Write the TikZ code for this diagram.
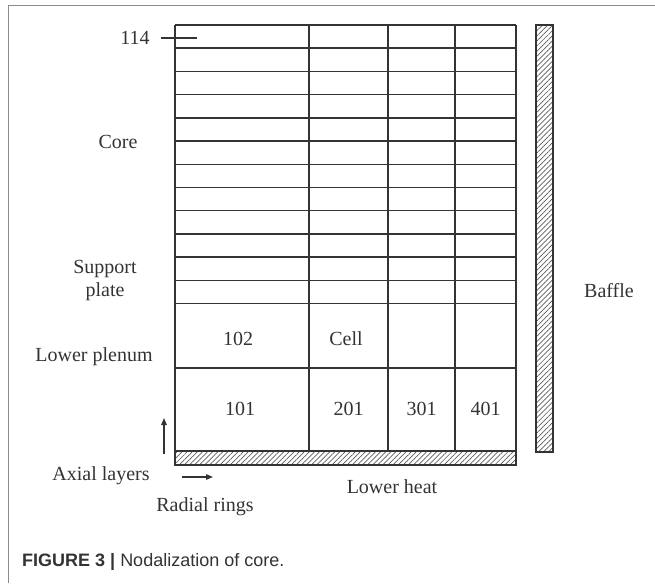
\documentclass[tikz,border=0pt]{standalone}
\usepackage{fontspec}
\setmainfont{Liberation Serif}
\newfontfamily\capfont{Liberation Sans}
\usetikzlibrary{patterns.meta,arrows.meta}
\definecolor{ink}{HTML}{333333}
\definecolor{framec}{HTML}{8A8A8A}
\begin{document}
\begin{tikzpicture}[x=1pt,y=-1pt,
  gridline/.style={draw=ink,line width=1.4pt},
  lbl/.style={text=ink,font=\fontsize{20}{22}\selectfont,inner sep=0pt,align=center},
  hatchbox/.style={draw=ink,line width=1.2pt,pattern={Lines[angle=45,distance=3.6pt,line width=0.7pt]},pattern color=ink!80},
  arr/.style={draw=ink,line width=1.3pt,-{Triangle[length=7pt,width=5.5pt]}}]
\useasboundingbox (0,0) rectangle (655,583);
% outer frame (cropped)
\draw[framec,line width=1pt] (8,583) -- (8,6) -- (655,6);
% grid rows
\foreach \y in {25,48.2,71.4,94.6,117.8,141,164.2,187.4,210.6,233.8,257,280.2,303.4,368,451}
  \draw[gridline] (175,\y) -- (516,\y);
% grid columns
\foreach \x in {175,309,388,455,516}
  \draw[gridline] (\x,25) -- (\x,451);
% hatched lower heat structure and baffle
\draw[hatchbox] (175,451) rectangle (516,465);
\draw[hatchbox] (536,25) rectangle (553,452);
% labels
\node[lbl] (n114) at (135,38) {114};
\coordinate (m114a) at (161,38);
\coordinate (m114b) at (197,38);
\draw[draw=ink,line width=1.2pt] (m114a) -- (m114b);
\node[lbl] (core) at (118,142) {Core};
\node[lbl] (supp) at (105,281) {Support\\[1pt]plate};
\node[lbl] (lp) at (94,357) {Lower plenum};
\node[lbl] (c102) at (238,339) {102};
\node[lbl] (cell) at (346,339) {Cell};
\node[lbl] (baffle) at (609,291) {Baffle};
\node[lbl] (c101) at (240,409) {101};
\node[lbl] (c201) at (348.5,409) {201};
\node[lbl] (c301) at (421.5,409) {301};
\node[lbl] (c401) at (485.5,409) {401};
\node[lbl] (axial) at (101,476) {Axial layers};
\node[lbl] (radial) at (205,507) {Radial rings};
\node[lbl] (lheat) at (392,487) {Lower heat};
\coordinate (ua) at (164,454);
\coordinate (ub) at (164,418);
\draw[arr] (ua) -- (ub);
\coordinate (ra) at (182,477);
\coordinate (rb) at (213,477);
\draw[arr] (ra) -- (rb);
% caption
\node[anchor=west,inner sep=0pt,text=ink,font=\capfont\fontsize{18}{21}\selectfont] (cap) at (22,562) {\textbf{FIGURE 3 |} Nodalization of core.};
\end{tikzpicture}
\end{document}
